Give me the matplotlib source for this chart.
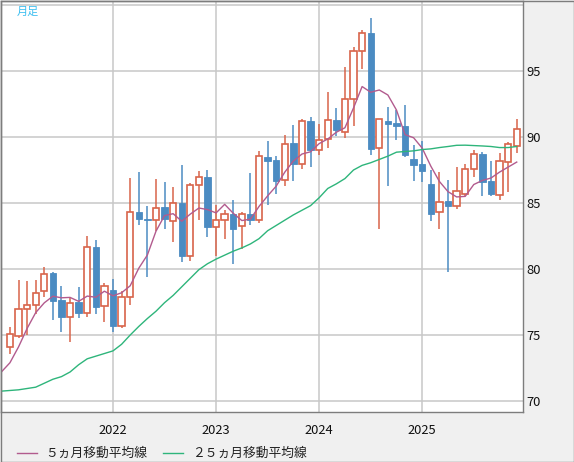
import matplotlib
matplotlib.use('Agg')
import matplotlib.pyplot as plt
from matplotlib.patches import Rectangle
from matplotlib.lines import Line2D
from matplotlib.transforms import ScaledTranslation

plt.rcParams['font.family'] = ['Noto Sans CJK JP', 'DejaVu Sans']

# ---------------- data (monthly, Jan 2021 .. Dec 2025) ----------------
months = [f"{y}-{m:02d}" for y in range(2021, 2026) for m in range(1, 13)]

opens = [74.1, 74.9, 77.0, 77.25, 78.3, 79.7, 77.65, 76.4, 77.5, 76.7, 81.65, 77.2,
         78.4, 75.65, 77.85, 84.3, 83.8, 83.75, 84.7, 83.6, 85.0, 80.95, 86.35, 86.95,
         83.2, 83.75, 84.2, 83.25, 84.15, 83.75, 88.45, 88.25, 86.75, 89.55, 87.95, 91.2,
         89.0, 89.85, 91.3, 90.4, 92.85, 96.5, 97.9, 89.15, 91.2, 91.05, 90.85, 88.35,
         87.95, 86.45, 84.3, 85.15, 84.8, 85.7, 87.6, 88.7, 86.65, 85.6, 88.1, 89.3]
highs = [75.6, 79.2, 79.1, 79.2, 80.15, 79.8, 78.7, 77.8, 78.65, 82.5, 82.2, 78.95,
         79.25, 78.3, 86.9, 87.35, 84.8, 86.8, 86.6, 86.2, 87.9, 86.55, 87.4, 87.5,
         84.85, 84.5, 85.25, 84.3, 87.25, 88.95, 89.7, 88.55, 90.15, 90.9, 91.4, 91.5,
         90.95, 93.4, 92.2, 95.3, 96.8, 98.1, 99.05, 91.4, 92.3, 92.05, 92.4, 89.4,
         89.7, 87.5, 87.35, 86.75, 87.7, 87.95, 89.0, 88.9, 88.15, 88.8, 89.6, 91.35]
lows = [73.55, 74.8, 75.0, 76.6, 77.9, 76.15, 75.2, 74.5, 76.3, 76.4, 76.6, 75.95,
        75.2, 75.5, 77.3, 83.3, 79.4, 82.9, 83.0, 82.05, 80.55, 80.6, 83.7, 82.45,
        81.0, 82.3, 80.4, 81.5, 83.35, 83.45, 84.85, 85.7, 86.25, 86.7, 87.55, 87.7,
        88.6, 89.2, 90.1, 89.9, 90.8, 95.15, 88.65, 83.05, 86.25, 89.75, 88.45, 86.7,
        86.6, 83.6, 83.05, 79.8, 84.55, 85.5, 87.0, 85.5, 85.55, 85.25, 85.8, 88.8]
closes = [75.1, 77.0, 77.25, 78.2, 79.65, 77.6, 76.4, 77.4, 76.7, 81.65, 77.15, 78.7,
          75.65, 77.85, 84.3, 83.8, 83.7, 84.65, 83.8, 85.0, 80.95, 86.4, 86.95, 83.2,
          83.75, 84.2, 83.0, 84.2, 83.75, 88.55, 88.2, 86.7, 89.5, 87.95, 91.2, 89.05,
          89.8, 91.25, 90.5, 92.9, 96.55, 97.9, 89.1, 91.35, 91.0, 90.85, 88.6, 87.9,
          87.4, 84.2, 85.05, 84.75, 85.9, 87.6, 88.7, 86.6, 85.65, 88.15, 89.5, 90.6]

# moving averages, Dec 2020 .. Dec 2025
ma_months = ["2020-12"] + months
ma5 = [72.2, 72.9, 74.1, 75.5, 76.7, 77.44, 77.94, 77.82, 77.85, 77.55, 77.95, 77.86, 78.32,
       77.97, 78.2, 78.73, 80.06, 81.06, 82.86, 84.05, 84.19, 83.62, 84.16, 84.62, 84.5,
       84.25, 84.9, 84.22, 83.67, 83.78, 84.74, 85.54, 86.28, 87.34, 88.18, 88.71, 88.88,
       89.5, 89.85, 90.36, 90.7, 92.2, 93.82, 93.39, 93.56, 93.18, 92.04, 90.18, 89.94,
       89.15, 87.79, 86.63, 85.86, 85.46, 85.5, 86.4, 86.71, 86.89, 87.34, 87.72, 88.1]
ma25 = [70.75, 70.8, 70.85, 70.95, 71.05, 71.35, 71.65, 71.85, 72.2, 72.75, 73.2, 73.4, 73.6,
        73.8, 74.3, 75.0, 75.65, 76.25, 76.8, 77.45, 78.0, 78.65, 79.3, 79.95, 80.4,
        80.75, 81.05, 81.35, 81.6, 81.9, 82.3, 82.9, 83.3, 83.7, 84.1, 84.45, 84.8,
        85.4, 86.1, 86.45, 86.85, 87.5, 87.85, 88.05, 88.3, 88.55, 88.85, 88.9, 88.95,
        89.05, 89.1, 89.2, 89.28, 89.37, 89.38, 89.35, 89.32, 89.28, 89.2, 89.2, 89.28]

year_labels = ["2022", "2023", "2024", "2025"]
y_ticks = [70, 75, 80, 85, 90, 95, 100]
y_labels = ["70", "75", "80", "85", "90", "95", ""]
legend_labels = ["５ヵ月移動平均線", "２５ヵ月移動平均線"]
period_label = "月足"

# ---------------- style ----------------
UP = '#d8644a'
DOWN = '#4b8bc2'
MA5_C = '#b25b8e'
MA25_C = '#2eb57b'
GRID = '#c8c8c8'
FRAME = '#7d7d7d'

W, H = 574, 462
fig = plt.figure(figsize=(W / 100, H / 100), dpi=100, facecolor='#f0f0f0')
ax = fig.add_axes([1 / W, (H - 412) / H, 522 / W, 411 / H])
ax.set_facecolor('white')

xs = list(range(len(months)))
bw = 0.74
for i, o, h, l, c in zip(xs, opens, highs, lows, closes):
    top, bot = max(o, c), min(o, c)
    if c >= o:
        ax.vlines(i, top, h, color=UP, lw=1.1, zorder=3)
        ax.vlines(i, l, bot, color=UP, lw=1.1, zorder=3)
        ax.add_patch(Rectangle((i - bw / 2, bot), bw, max(top - bot, 0.05),
                               facecolor='white', edgecolor=UP, lw=1.2, zorder=4))
    else:
        ax.vlines(i, l, h, color=DOWN, lw=1.1, zorder=3)
        ax.add_patch(Rectangle((i - bw / 2, bot), bw, max(top - bot, 0.12),
                               facecolor=DOWN, edgecolor=DOWN, lw=0.6, zorder=4))

ma_x = [months.index(m) if m in months else -1 for m in ma_months]
ax.plot(ma_x, ma5, color=MA5_C, lw=1.0, zorder=5)
ax.plot(ma_x, ma25, color=MA25_C, lw=1.0, zorder=5)

ax.set_xlim(-1.04, 59.73)
ax.set_ylim(69.17, 100.30)

xt = [months.index(f"{y}-01") for y in year_labels]
ax.set_xticks(xt)
ax.set_xticklabels(year_labels, fontsize=9.3, color='#111111')
off = ScaledTranslation(7.5 / 100, 0, fig.dpi_scale_trans)
for lab in ax.get_xticklabels():
    lab.set_transform(lab.get_transform() + off)
ax.set_yticks(y_ticks)
ax.set_yticklabels(y_labels, fontsize=9.3, color='#111111')
ax.yaxis.tick_right()
ax.tick_params(axis='both', length=0)
ax.tick_params(axis='x', pad=8.5)
ax.tick_params(axis='y', pad=2.5)
ax.grid(True, color=GRID, lw=1.1, zorder=0)
ax.set_axisbelow(True)
for s in ax.spines.values():
    s.set_color(FRAME)
    s.set_linewidth(1.0)

ax.text(16 / 522, 1 - 11 / 411, period_label, transform=ax.transAxes,
        fontsize=8, color='#3cbef0', va='center', ha='left')

# legend
ly = (H - 453) / H
fig.add_artist(Line2D([16.5 / W, 36.6 / W], [ly, ly], color=MA5_C, lw=1.0))
fig.text(45.5 / W, ly, legend_labels[0], fontsize=9.2, color='#222222', va='center', ha='left')
fig.add_artist(Line2D([163 / W, 183 / W], [ly, ly], color=MA25_C, lw=1.0))
fig.text(192 / W, ly, legend_labels[1], fontsize=9.2, color='#222222', va='center', ha='left')

# outer frame
fig.add_artist(Rectangle((0.5 / W, 0.5 / H), (W - 1) / W, (H - 1) / H, transform=fig.transFigure,
                         fill=False, edgecolor=FRAME, lw=1.0))

fig.savefig('out.png', dpi=100, facecolor=fig.get_facecolor())
